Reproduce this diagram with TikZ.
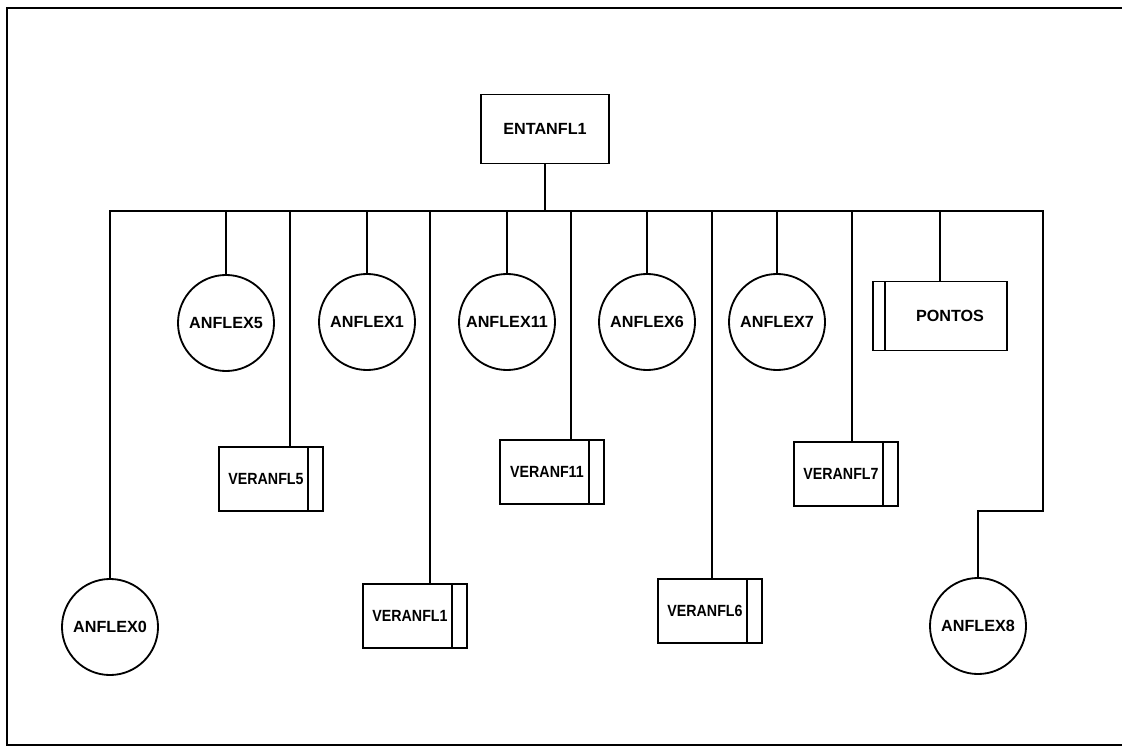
\documentclass[tikz,border=0pt]{standalone}
\usepackage{fontspec}
\setmainfont{Liberation Sans}
\newfontfamily\narrowsans[FakeStretch=0.88]{Liberation Sans}
\usepackage{tikz}
\usetikzlibrary{positioning}
\tikzstyle{module} = [rectangle, text centered, draw=black, line width=1.2pt, minimum width=3.2cm, minimum height=1.725cm, font=\fontsize{11.5}{13}\selectfont\bfseries]
\tikzstyle{routine} = [circle, text centered, draw=black, line width=1.3pt, minimum size=2.4cm, inner sep=0pt, font=\fontsize{11.5}{13}\selectfont\bfseries]
\tikzstyle{libright} = [rectangle, text centered, draw=black, line width=1.2pt, minimum width=2.6cm, minimum height=1.6cm, font=\narrowsans\fontsize{11.5}{13}\selectfont\bfseries,
    execute at end node={\hspace*{0.25cm}},
    path picture={\draw [line width=1.2pt] ([xshift=-0.37cm]path picture bounding box.north east) -- ([xshift=-0.37cm]path picture bounding box.south east);}]
\tikzstyle{libleft} = [rectangle, text centered, draw=black, line width=1.2pt, minimum width=3.35cm, minimum height=1.725cm, font=\fontsize{11.5}{13}\selectfont\bfseries,
    execute at begin node={\hspace*{0.5cm}},
    path picture={\draw [line width=1.2pt] ([xshift=0.3cm]path picture bounding box.north west) -- ([xshift=0.3cm]path picture bounding box.south west);}]
\tikzstyle{link} = [line width=1pt, black]
\tikzstyle{bus} = [line width=1.3pt, black]
\begin{document}
\begin{tikzpicture}[x=0.025cm, y=-0.025cm]

    \useasboundingbox (0, 0) rectangle (1122, 747);

    % page frame, right edge runs off the page
    \draw [line width=1.4pt] (7, 8) rectangle (1130, 745);

    \node (entanfl1) [module] at (545, 129) {ENTANFL1};

    \node (anflex0) [routine] at (110, 627) {ANFLEX0};
    \node (anflex5) [routine] at (226, 323) {ANFLEX5};
    \node (anflex1) [routine] at (367, 322) {ANFLEX1};
    \node (anflex11) [routine] at (507, 322) {ANFLEX11};
    \node (anflex6) [routine] at (647, 322) {ANFLEX6};
    \node (anflex7) [routine] at (777, 322) {ANFLEX7};
    \node (anflex8) [routine] at (978, 626) {ANFLEX8};

    \node (veranfl5) [libright] at (271, 479) {VERANFL5};
    \node (veranfl1) [libright] at (415, 616) {VERANFL1};
    \node (veranf11) [libright] at (552, 472) {VERANF11};
    \node (veranfl6) [libright] at (710, 611) {VERANFL6};
    \node (veranfl7) [libright] at (846, 474) {VERANFL7};
    \node (pontos) [libleft] at (940, 316) {PONTOS};

    \coordinate (bus) at (545, 211);
    \coordinate (busend) at (1043, 211);
    \coordinate (bend) at (1043, 511);

    \draw [bus] (entanfl1.south) -- (bus);
    \draw [bus] (anflex0.north) |- (busend) -- (bend) -| (anflex8.north);

    \draw [link] (anflex5.north) -- (anflex5.north |- bus);
    \draw [link] ([xshift=0.475cm]veranfl5.north) -- ([xshift=0.475cm]veranfl5.north |- bus);
    \draw [link] (anflex1.north) -- (anflex1.north |- bus);
    \draw [link] ([xshift=0.375cm]veranfl1.north) -- ([xshift=0.375cm]veranfl1.north |- bus);
    \draw [link] (anflex11.north) -- (anflex11.north |- bus);
    \draw [link] ([xshift=0.475cm]veranf11.north) -- ([xshift=0.475cm]veranf11.north |- bus);
    \draw [link] (anflex6.north) -- (anflex6.north |- bus);
    \draw [link] ([xshift=0.05cm]veranfl6.north) -- ([xshift=0.05cm]veranfl6.north |- bus);
    \draw [link] (anflex7.north) -- (anflex7.north |- bus);
    \draw [link] ([xshift=0.15cm]veranfl7.north) -- ([xshift=0.15cm]veranfl7.north |- bus);
    \draw [link] (pontos.north) -- (pontos.north |- bus);

\end{tikzpicture}
\end{document}
